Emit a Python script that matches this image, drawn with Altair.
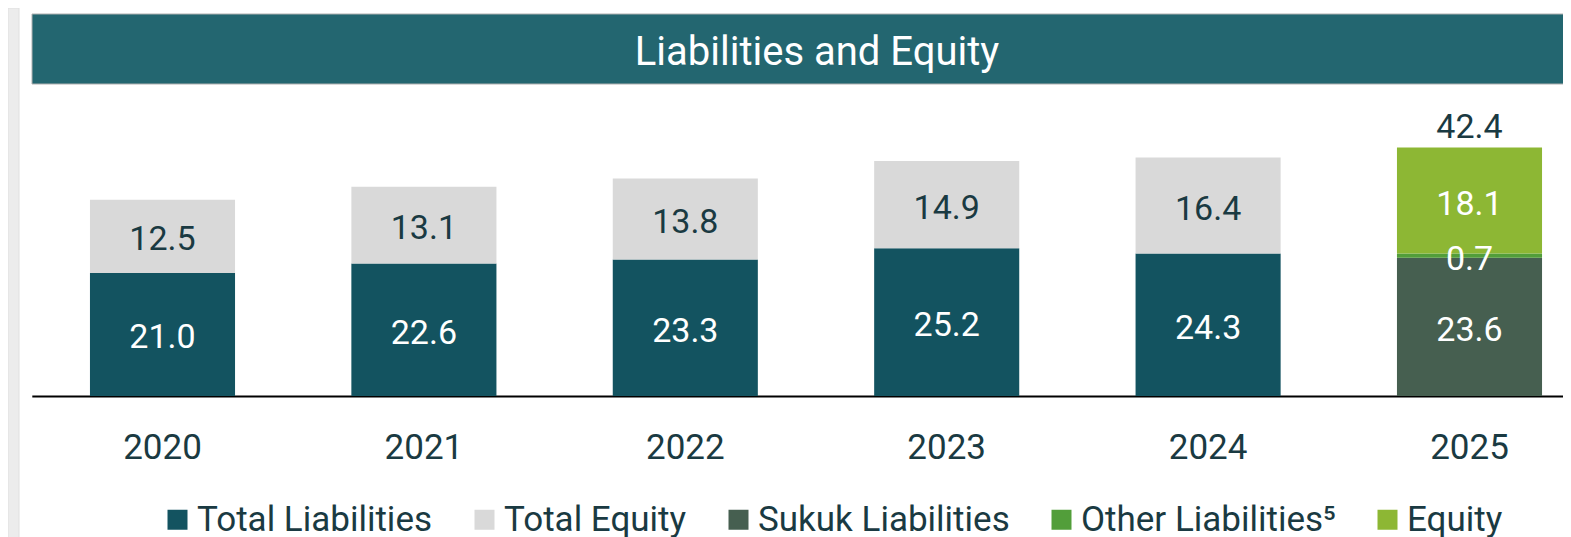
import altair as alt
import pandas as pd

years = ["2020", "2021", "2022", "2023", "2024", "2025"]
total_liabilities = [21.0, 22.6, 23.3, 25.2, 24.3]
total_equity = [12.5, 13.1, 13.8, 14.9, 16.4]
sukuk_2025 = 23.6
other_2025 = 0.7
equity_2025 = 18.1

categories = ["Total Liabilities", "Total Equity", "Sukuk Liabilities",
              "Other Liabilities\u2075", "Equity"]
colors = ["#135360", "#d9d9d9", "#465f50", "#529e3a", "#8db734"]

rows = []
for i, y in enumerate(years[:5]):
    rows.append({"year": y, "cat": categories[0], "value": total_liabilities[i], "ord": 0})
    rows.append({"year": y, "cat": categories[1], "value": total_equity[i], "ord": 1})
rows.append({"year": "2025", "cat": categories[2], "value": sukuk_2025, "ord": 0})
rows.append({"year": "2025", "cat": categories[3], "value": other_2025, "ord": 1})
rows.append({"year": "2025", "cat": categories[4], "value": equity_2025, "ord": 2})
df = pd.DataFrame(rows)

FONT = "Roboto"
DARK = "#1a3a42"
PX_PER_UNIT = 5.86
H = 388
xscale = alt.Scale(domain=years, range=[23.8, 1592.2], paddingInner=0.445, paddingOuter=0.2225)
yscale = alt.Scale(domain=[0, H / PX_PER_UNIT], nice=False, zero=True)

dummy = pd.DataFrame({"d": [0]})

strip = alt.Chart(dummy).mark_rect(fill="#ececec", stroke="#e0e0e0", strokeWidth=1).encode(
    x=alt.value(0), x2=alt.value(11), y=alt.value(0), y2=alt.value(540))

banner = alt.Chart(dummy).mark_rect(fill="#236670", stroke="#b0b0b0", strokeWidth=1).encode(
    x=alt.value(24), x2=alt.value(1600), y=alt.value(6), y2=alt.value(76))

banner_text = alt.Chart(dummy).mark_text(
    text="Liabilities and Equity", font=FONT, fontSize=40, color="white",
    align="center", baseline="middle").encode(x=alt.value(809), y=alt.value(45))

base = alt.Chart(df).transform_stack(
    stack="value", groupby=["year"], sort=[alt.SortField("ord", "ascending")], as_=["y0", "y1"]
).transform_calculate(mid="(datum.y0 + datum.y1) / 2")

bars = base.mark_bar().encode(
    x=alt.X("year:N", scale=xscale, sort=years,
            axis=alt.Axis(title=None, labelAngle=0, labelFont=FONT, labelFontSize=35,
                          labelColor=DARK, ticks=False, domainColor="#000000",
                          domainWidth=2, labelPadding=51, labelBaseline="middle")),
    y=alt.Y("y1:Q", scale=yscale, axis=None),
    y2="y0:Q",
    color=alt.Color("cat:N", scale=alt.Scale(domain=categories, range=colors),
                    legend=alt.Legend(title=None, orient="none", legendX=152, legendY=494,
                                      direction="horizontal", symbolType="square",
                                      symbolSize=400, symbolStrokeWidth=0, padding=0,
                                      labelFont=FONT, labelFontSize=35, labelColor=DARK,
                                      labelOffset=2, columnPadding=34, labelLimit=0)),
)

labels = base.mark_text(font=FONT, fontSize=34, baseline="middle", dy=4).encode(
    x=alt.X("year:N", scale=xscale, sort=years),
    y=alt.Y("mid:Q", scale=yscale),
    text=alt.Text("value:Q", format=".1f"),
    color=alt.condition(alt.datum.cat == "Total Equity", alt.value(DARK), alt.value("white")),
)

total = alt.Chart(df).transform_filter(alt.datum.year == "2025").transform_aggregate(
    total="sum(value)", groupby=["year"]
).mark_text(font=FONT, fontSize=34, color=DARK, baseline="alphabetic", dy=-10).encode(
    x=alt.X("year:N", scale=xscale, sort=years),
    y=alt.Y("total:Q", scale=yscale),
    text=alt.Text("total:Q", format=".1f"),
)

chart = alt.layer(strip, banner, banner_text, bars, labels, total).properties(
    width=1555, height=H,
    autosize=alt.AutoSizeParams(type="none"),
    padding={"left": 0, "top": 0, "right": 0, "bottom": 141},
).configure_view(stroke=None)

chart.save("out.html", embed_options={"renderer": "svg", "actions": False})
